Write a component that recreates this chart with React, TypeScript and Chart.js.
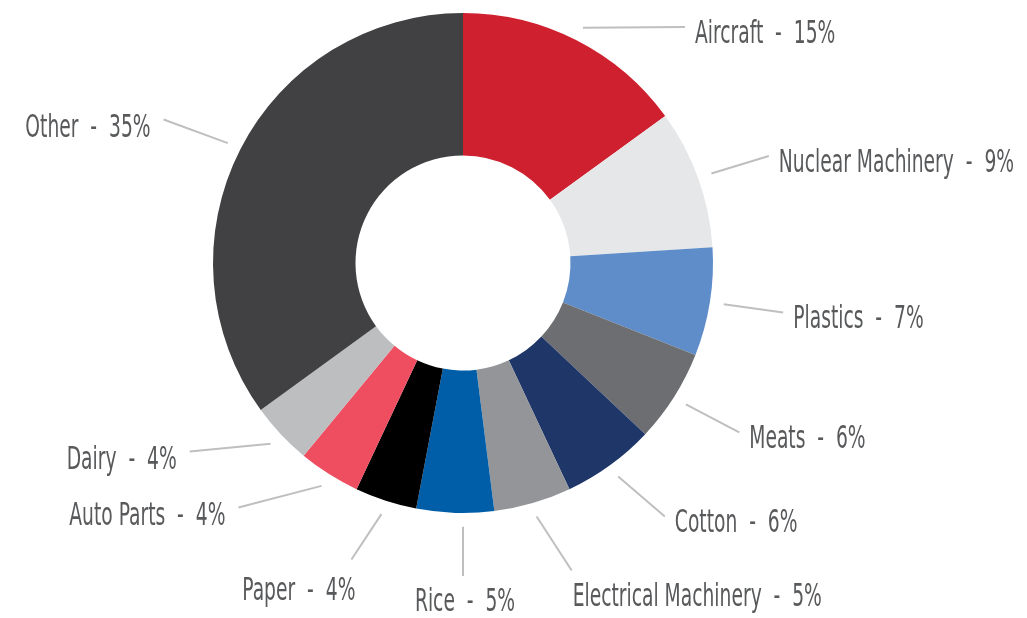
import React, { useEffect, useRef } from "react";
import { Chart, registerables } from "chart.js";

Chart.register(...registerables);

const categories = [
  "Aircraft",
  "Nuclear Machinery",
  "Plastics",
  "Meats",
  "Cotton",
  "Electrical Machinery",
  "Rice",
  "Paper",
  "Auto Parts",
  "Dairy",
  "Other",
];
const shares = [15, 9, 7, 6, 6, 5, 5, 4, 4, 4, 35];
const sliceColors = [
  "#CF202F",
  "#E6E7E8",
  "#5F8DC9",
  "#6D6E71",
  "#1F3669",
  "#939598",
  "#005EA8",
  "#000000",
  "#EF4E61",
  "#BCBEC0",
  "#414042",
];

const FONT = "26px 'Liberation Sans Narrow', 'DejaVu Sans Condensed', 'Arial Narrow', sans-serif";
const TEXT_COLOR = "#58595B";
const LINE_COLOR = "#BFBFBF";
const CAP_H = 22;
const Y_STRETCH = 1.2;
const X_SQUEEZE = 0.8;

function drawLabel(ctx: CanvasRenderingContext2D, text: string, x: number, capCenterY: number, align: CanvasTextAlign) {
  ctx.save();
  ctx.translate(x, capCenterY);
  ctx.scale(X_SQUEEZE, Y_STRETCH);
  ctx.font = FONT;
  ctx.fillStyle = TEXT_COLOR;
  ctx.textAlign = align;
  ctx.textBaseline = "alphabetic";
  ctx.fillText(text, 0, CAP_H / 2 / Y_STRETCH);
  ctx.restore();
}

const leaderPlugin = {
  id: "leaderLabels",
  afterDatasetsDraw(chart: any) {
    const ctx: CanvasRenderingContext2D = chart.ctx;
    const meta = chart.getDatasetMeta(0);
    const items: any[] = meta.data.map((arc: any, i: number) => {
      const p = arc.getProps(["x", "y", "startAngle", "endAngle", "outerRadius"], true);
      const mid = (p.startAngle + p.endAngle) / 2;
      let clock = ((mid + Math.PI / 2) * 180) / Math.PI;
      clock = ((clock % 360) + 360) % 360;
      const R0 = p.outerRadius;
      const cx = p.x;
      const cy = p.y;
      const r1 = R0 + 14;
      const r2 = R0 + 66;
      const sx = cx + r1 * Math.cos(mid);
      const sy = cy + r1 * Math.sin(mid);
      const yMin = cy - R0 + 14;
      const yMax = cy + R0 + 63;
      let y = cy + r2 * Math.sin(mid);
      y = Math.max(yMin, Math.min(yMax, y));
      const dev = Math.abs(clock - 180);
      return {
        i,
        cx,
        cy,
        R0,
        sx,
        sy,
        y,
        yMax,
        right: clock < 180,
        below: dev < 25,
        center: dev < 5,
      };
    });

    // resolve vertical spacing per side, bottom-up
    [true, false].forEach((side) => {
      const gap = side ? 50 : 56;
      const list = items.filter((it) => !it.center && it.right === side).sort((a, b) => b.y - a.y);
      for (let k = 1; k < list.length; k++) {
        list[k].y = Math.min(list[k].y, list[k - 1].y - gap);
      }
    });

    ctx.save();
    ctx.strokeStyle = LINE_COLOR;
    ctx.lineWidth = 2;
    items.forEach((it) => {
      let ex: number;
      let ey: number;
      let sx = it.sx;
      if (it.center) {
        sx = it.cx;
        ex = it.cx;
        ey = it.yMax;
      } else if (it.below) {
        ex = it.sx + (it.right ? 35 : -30);
        ey = it.y + (it.right ? 4 : -4);
      } else {
        const Rx = it.R0 + (it.right ? 74 : 82);
        const dy = it.y - it.cy;
        const dx = Math.sqrt(Math.max(Rx * Rx - dy * dy, 0));
        ex = it.right ? Math.max(it.cx + dx, it.sx + 20) : Math.min(it.cx - dx, it.sx - 20);
        ey = it.y;
      }
      ctx.beginPath();
      ctx.moveTo(sx, it.sy);
      ctx.lineTo(ex, ey);
      ctx.stroke();

      const text = `${categories[it.i]}  -  ${shares[it.i]}%`;
      if (it.center) {
        drawLabel(ctx, text, ex + 2, ey + 24, "center");
      } else if (it.below) {
        if (it.right) drawLabel(ctx, text, ex + 1, ey + 25, "left");
        else drawLabel(ctx, text, ex + 4, ey + 29, "right");
      } else if (it.right) {
        drawLabel(ctx, text, ex + 10, ey + 5, "left");
      } else {
        drawLabel(ctx, text, ex - 13, ey + 6, "right");
      }
    });
    ctx.restore();
  },
};

export default function App() {
  const ref = useRef<HTMLCanvasElement | null>(null);
  useEffect(() => {
    document.body.style.margin = "0";
    const canvas = ref.current;
    if (!canvas) return;
    const chart = new Chart(canvas, {
      type: "doughnut",
      data: {
        labels: categories,
        datasets: [
          {
            data: shares,
            backgroundColor: sliceColors,
            borderWidth: 0,
          },
        ],
      },
      options: {
        responsive: false,
        animation: false,
        cutout: "43%",
        layout: { padding: { left: 213, right: 314, top: 13, bottom: 105 } },
        plugins: {
          legend: { display: false },
          tooltip: { enabled: false },
        },
      },
      plugins: [leaderPlugin],
    });
    return () => chart.destroy();
  }, []);
  return (
    <div style={{ width: 1027, height: 618, background: "#ffffff" }}>
      <canvas ref={ref} width={1027} height={618} style={{ display: "block", width: 1027, height: 618 }} />
    </div>
  );
}
